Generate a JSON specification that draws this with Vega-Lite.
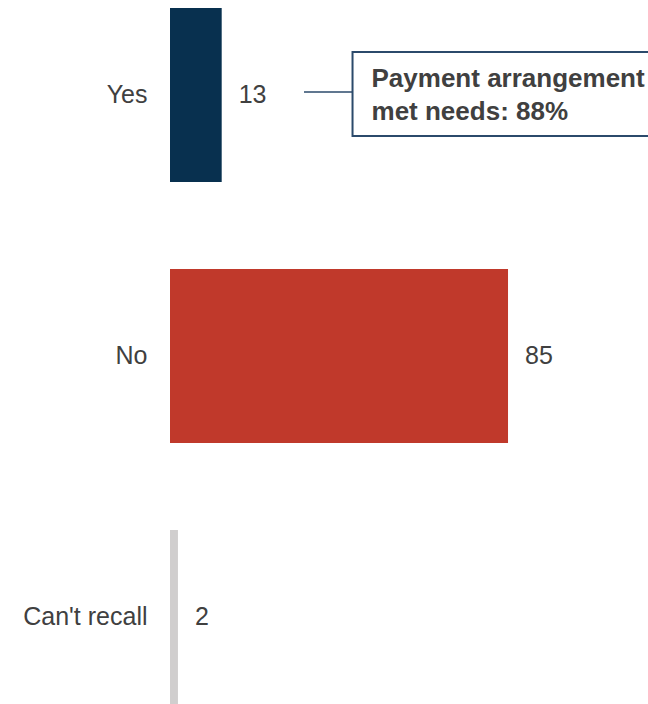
{
  "$schema": "https://vega.github.io/schema/vega-lite/v6.json",
  "width": 478,
  "height": 696,
  "autosize": {"type": "none"},
  "padding": {"left": 170, "top": 8, "right": 0, "bottom": 0},
  "config": {"view": {"stroke": null}, "font": "Liberation Sans"},
  "data": {"values": [
    {"answer": "Yes", "pct": 13},
    {"answer": "No", "pct": 85},
    {"answer": "Can't recall", "pct": 2}
  ]},
  "encoding": {
    "y": {"field": "answer", "type": "nominal", "sort": ["Yes", "No", "Can't recall"],
      "scale": {"paddingInner": 0.333, "paddingOuter": 0},
      "axis": {"title": null, "domain": false, "ticks": false, "labelFontSize": 25, "labelColor": "#404040", "labelPadding": 23, "labelFont": "Liberation Sans"}}
  },
  "layer": [
    {
      "mark": {"type": "bar"},
      "encoding": {
        "x": {"field": "pct", "type": "quantitative", "scale": {"domain": [0, 120.2], "nice": false, "zero": true}, "axis": null},
        "color": {"field": "answer", "type": "nominal", "scale": {"domain": ["Yes", "No", "Can't recall"], "range": ["#08304f", "#c0392b", "#d0cece"]}, "legend": null}
      }
    },
    {
      "mark": {"type": "text", "align": "left", "baseline": "middle", "dx": 17, "fontSize": 25, "color": "#404040"},
      "encoding": {
        "x": {"field": "pct", "type": "quantitative"},
        "text": {"field": "pct", "type": "quantitative"}
      }
    },
    {
      "data": {"values": [{"answer": "Yes", "start": 33.7, "end": 45.9, "boxEnd": 130, "note": "Payment arrangement\nmet needs: 88%"}]},
      "layer": [
        {
          "mark": {"type": "rule", "color": "#2b4a6b", "strokeWidth": 1.5, "yOffset": -3},
          "encoding": {
            "x": {"field": "start", "type": "quantitative"},
            "x2": {"field": "end"}
          }
        },
        {
          "mark": {"type": "bar", "height": 84, "yOffset": -1, "fill": "white", "stroke": "#2b4a6b", "strokeWidth": 2},
          "encoding": {
            "x": {"field": "end", "type": "quantitative"},
            "x2": {"field": "boxEnd"}
          }
        },
        {
          "mark": {"type": "text", "align": "left", "baseline": "alphabetic", "dx": 19, "yOffset": -8, "fontSize": 26, "fontWeight": "bold", "color": "#404040", "lineBreak": "\n", "lineHeight": 33},
          "encoding": {
            "x": {"field": "end", "type": "quantitative"},
            "text": {"field": "note"}
          }
        }
      ]
    }
  ]
}
